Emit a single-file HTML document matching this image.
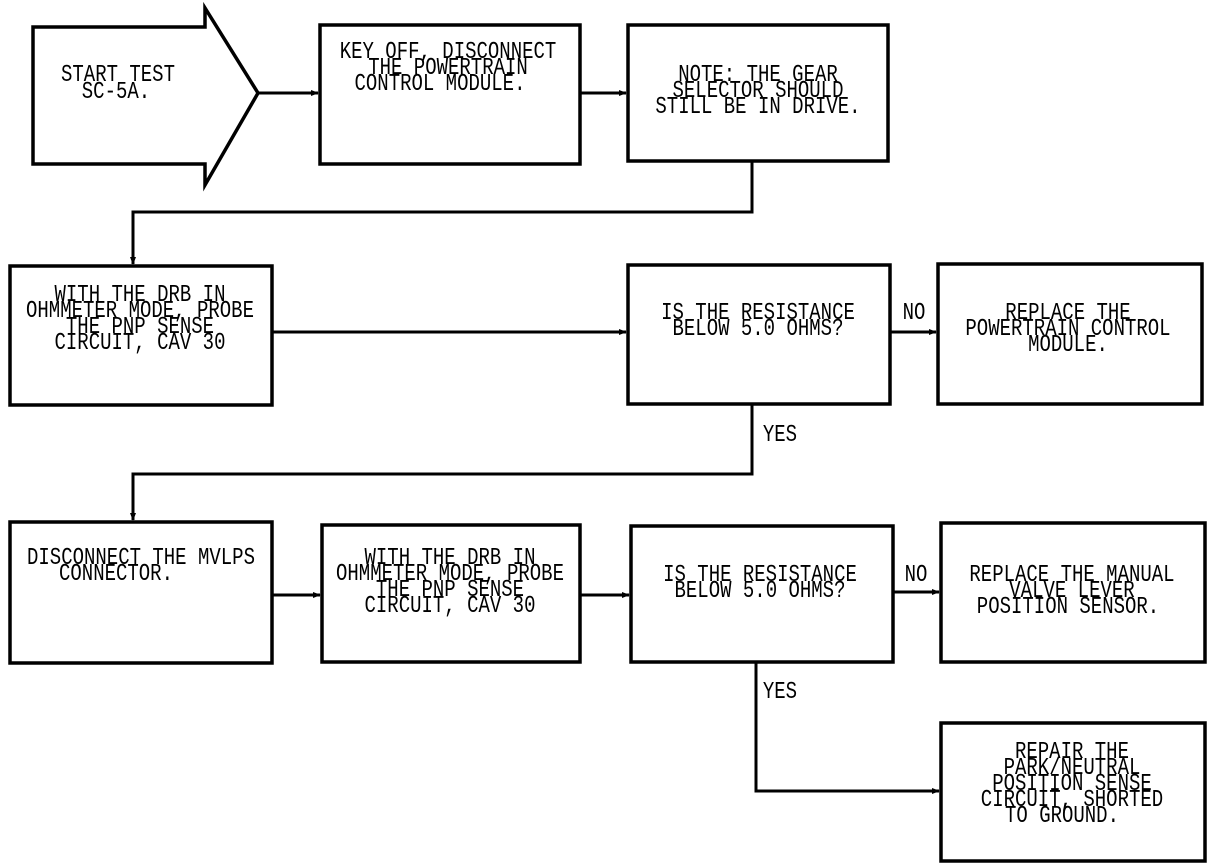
<!DOCTYPE html>
<html><head><meta charset="utf-8"><style>
html,body{margin:0;padding:0;background:#fff;}
svg{display:block}
text{font-family:"Liberation Mono",monospace;font-size:19px;fill:#000;text-anchor:middle;}
</style></head><body>
<svg width="1216" height="868" viewBox="0 0 1216 868" xmlns="http://www.w3.org/2000/svg">
<defs><marker id="a" markerWidth="8" markerHeight="8" refX="7" refY="4" orient="auto" markerUnits="userSpaceOnUse"><path d="M0,1 L8,4 L0,7 z" fill="#000"/></marker></defs>
<g fill="none" stroke="#000" stroke-width="3.5">
<path d="M33,27 H205 V8 L258,93 L205,185 V164 H33 Z" stroke-linejoin="miter"/>
<rect x="320" y="25" width="260" height="139"/>
<rect x="628" y="25" width="260" height="136"/>
<rect x="10" y="266" width="262" height="139"/>
<rect x="628" y="265" width="262" height="139"/>
<rect x="938" y="264" width="264" height="140"/>
<rect x="10" y="522" width="262" height="141"/>
<rect x="322" y="525" width="258" height="137"/>
<rect x="631" y="526" width="262" height="136"/>
<rect x="941" y="523" width="264" height="139"/>
<rect x="941" y="723" width="264" height="138"/>
</g>
<g fill="none" stroke="#000" stroke-width="3">
<line x1="258" y1="93" x2="318" y2="93" marker-end="url(#a)"/>
<line x1="580" y1="93" x2="626" y2="93" marker-end="url(#a)"/>
<polyline points="752,161 752,212 133,212 133,264" marker-end="url(#a)"/>
<line x1="272" y1="332" x2="626" y2="332" marker-end="url(#a)"/>
<line x1="890" y1="332" x2="936" y2="332" marker-end="url(#a)"/>
<polyline points="752,404 752,474 133,474 133,520" marker-end="url(#a)"/>
<line x1="272" y1="595" x2="320" y2="595" marker-end="url(#a)"/>
<line x1="580" y1="595" x2="629" y2="595" marker-end="url(#a)"/>
<line x1="893" y1="592" x2="939" y2="592" marker-end="url(#a)"/>
<polyline points="756,662 756,791 939,791" marker-end="url(#a)"/>
</g>
<g transform="scale(1,1.25)">
<text x="118" y="65">START TEST</text>
<text x="116" y="78.6">SC-5A.</text>
<text x="448" y="46.4">KEY OFF, DISCONNECT</text>
<text x="448" y="59.2">THE POWERTRAIN</text>
<text x="440" y="72">CONTROL MODULE.</text>
<text x="758" y="65">NOTE: THE GEAR</text>
<text x="758" y="77.8">SELECTOR SHOULD</text>
<text x="758" y="90.6">STILL BE IN DRIVE.</text>
<text x="140" y="241">WITH THE DRB IN</text>
<text x="140" y="253.8">OHMMETER MODE, PROBE</text>
<text x="140" y="266.6">THE PNP SENSE</text>
<text x="140" y="279.4">CIRCUIT, CAV 30</text>
<text x="758" y="255.4">IS THE RESISTANCE</text>
<text x="758" y="268.2">BELOW 5.0 OHMS?</text>
<text x="914" y="255.4">NO</text>
<text x="780" y="353">YES</text>
<text x="1068" y="255.4">REPLACE THE</text>
<text x="1068" y="268.2">POWERTRAIN CONTROL</text>
<text x="1068" y="281">MODULE.</text>
<text x="141" y="451.4">DISCONNECT THE MVLPS</text>
<text x="116" y="464.2">CONNECTOR.</text>
<text x="450" y="451.4">WITH THE DRB IN</text>
<text x="450" y="464.2">OHMMETER MODE, PROBE</text>
<text x="450" y="477">THE PNP SENSE</text>
<text x="450" y="489.8">CIRCUIT, CAV 30</text>
<text x="760" y="465">IS THE RESISTANCE</text>
<text x="760" y="477.8">BELOW 5.0 OHMS?</text>
<text x="916" y="465">NO</text>
<text x="780" y="558.6">YES</text>
<text x="1072" y="465">REPLACE THE MANUAL</text>
<text x="1072" y="477.8">VALVE LEVER</text>
<text x="1068" y="490.6">POSITION SENSOR.</text>
<text x="1072" y="606.6">REPAIR THE</text>
<text x="1072" y="619.4">PARK/NEUTRAL</text>
<text x="1072" y="632.2">POSITION SENSE</text>
<text x="1072" y="645">CIRCUIT, SHORTED</text>
<text x="1062" y="657.8">TO GROUND.</text>
</g>
</svg>
</body></html>
